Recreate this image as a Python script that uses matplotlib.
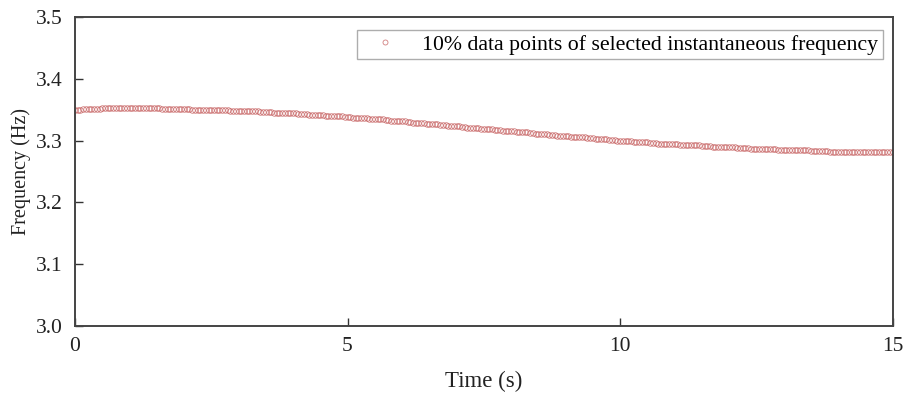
import numpy as np
import matplotlib
matplotlib.use("Agg")
import matplotlib.pyplot as plt

# ── Data: instantaneous frequency (Hz), one value every 0.05 s from 0 to 15 s ──
freq_0_5 = [
    3.350, 3.350, 3.350, 3.351, 3.351, 3.351, 3.351, 3.351, 3.351, 3.351,
    3.352, 3.352, 3.352, 3.352, 3.352, 3.352, 3.352, 3.352, 3.352, 3.352,
    3.352, 3.352, 3.352, 3.352, 3.352, 3.352, 3.352, 3.352, 3.352, 3.352,
    3.352, 3.352, 3.351, 3.351, 3.351, 3.351, 3.351, 3.351, 3.351, 3.351,
    3.351, 3.351, 3.351, 3.350, 3.350, 3.350, 3.350, 3.350, 3.350, 3.350,
    3.349, 3.349, 3.349, 3.349, 3.349, 3.349, 3.349, 3.348, 3.348, 3.348,
    3.348, 3.348, 3.348, 3.347, 3.347, 3.347, 3.347, 3.347, 3.346, 3.346,
    3.346, 3.346, 3.346, 3.345, 3.345, 3.345, 3.345, 3.345, 3.344, 3.344,
    3.344, 3.344, 3.343, 3.343, 3.343, 3.343, 3.342, 3.342, 3.342, 3.341,
    3.341, 3.341, 3.340, 3.340, 3.340, 3.340, 3.339, 3.339, 3.339, 3.338,
]
freq_5_10 = [
    3.338, 3.338, 3.337, 3.337, 3.337, 3.336, 3.336, 3.336, 3.335, 3.335,
    3.335, 3.334, 3.334, 3.334, 3.333, 3.333, 3.332, 3.332, 3.332, 3.331,
    3.331, 3.331, 3.330, 3.330, 3.329, 3.329, 3.329, 3.328, 3.328, 3.327,
    3.327, 3.327, 3.326, 3.326, 3.325, 3.325, 3.325, 3.324, 3.324, 3.323,
    3.323, 3.323, 3.322, 3.322, 3.321, 3.321, 3.321, 3.320, 3.320, 3.319,
    3.319, 3.319, 3.318, 3.318, 3.317, 3.317, 3.317, 3.316, 3.316, 3.315,
    3.315, 3.315, 3.314, 3.314, 3.313, 3.313, 3.313, 3.312, 3.312, 3.311,
    3.311, 3.311, 3.310, 3.310, 3.309, 3.309, 3.309, 3.308, 3.308, 3.307,
    3.307, 3.307, 3.306, 3.306, 3.306, 3.305, 3.305, 3.305, 3.304, 3.304,
    3.304, 3.303, 3.303, 3.303, 3.302, 3.302, 3.301, 3.301, 3.301, 3.300,
]
freq_10_15 = [
    3.300, 3.300, 3.299, 3.299, 3.299, 3.298, 3.298, 3.298, 3.297, 3.297,
    3.297, 3.296, 3.296, 3.296, 3.295, 3.295, 3.295, 3.294, 3.294, 3.294,
    3.294, 3.294, 3.293, 3.293, 3.293, 3.293, 3.292, 3.292, 3.292, 3.292,
    3.291, 3.291, 3.291, 3.291, 3.290, 3.290, 3.290, 3.290, 3.289, 3.289,
    3.289, 3.289, 3.289, 3.288, 3.288, 3.288, 3.288, 3.288, 3.287, 3.287,
    3.287, 3.287, 3.287, 3.286, 3.286, 3.286, 3.286, 3.286, 3.285, 3.285,
    3.285, 3.285, 3.285, 3.285, 3.284, 3.284, 3.284, 3.284, 3.284, 3.284,
    3.283, 3.283, 3.283, 3.283, 3.283, 3.283, 3.283, 3.282, 3.282, 3.282,
    3.282, 3.282, 3.282, 3.282, 3.282, 3.282, 3.282, 3.282, 3.282, 3.282,
    3.281, 3.281, 3.281, 3.281, 3.281, 3.281, 3.281, 3.281, 3.281, 3.281,
    3.281,
]
freq = np.array(freq_0_5 + freq_5_10 + freq_10_15)
time = np.linspace(0, 15, len(freq))   # uniform sampling, 0.05 s

x_ticks = [0, 5, 10, 15]
y_ticks = [3.0, 3.1, 3.2, 3.3, 3.4, 3.5]
legend_label = "10% data points of selected instantaneous frequency"

# ── Plot ──────────────────────────────────────────────────
plt.rcParams["font.family"] = ["Liberation Serif", "DejaVu Serif"]

fig = plt.figure(figsize=(9.09, 3.94), dpi=100)
ax = fig.add_axes([0.0825, 0.173, 0.8995, 0.784])

ax.plot(time, freq, linestyle="none", marker="o", markersize=4.0,
        markerfacecolor="none", markeredgecolor="#c25555", markeredgewidth=0.6,
        alpha=0.75, label=legend_label)

ax.set_xlim(0, 15)
ax.set_ylim(3.0, 3.5)
ax.set_xticks(x_ticks)
ax.set_yticks(y_ticks)
ax.set_xticklabels([str(v) for v in x_ticks])
ax.set_yticklabels([f"{v:.1f}" for v in y_ticks])
ax.tick_params(direction="in", length=6, width=1, labelsize=15.5,
               colors="#333333", labelcolor="#222222")
ax.tick_params(axis="y", pad=9)
ax.tick_params(axis="x", pad=8)

ax.set_xlabel("Time (s)", fontsize=16.5, color="#222222", labelpad=11)
ax.set_ylabel("Frequency (Hz)", fontsize=14.5, color="#222222", labelpad=3)

for spine in ax.spines.values():
    spine.set_color("#444444")
    spine.set_linewidth(1.4)

leg = ax.legend(loc="upper right", bbox_to_anchor=(0.9878, 0.958),
                bbox_transform=ax.transAxes, fontsize=15.7, frameon=True,
                fancybox=False, edgecolor="#999999", handlelength=2.2,
                handletextpad=0.6, borderpad=0.2, borderaxespad=0.0,
                markerscale=0.9)
leg.get_frame().set_linewidth(1.0)

plt.savefig("out.png", dpi=100)
plt.close()
